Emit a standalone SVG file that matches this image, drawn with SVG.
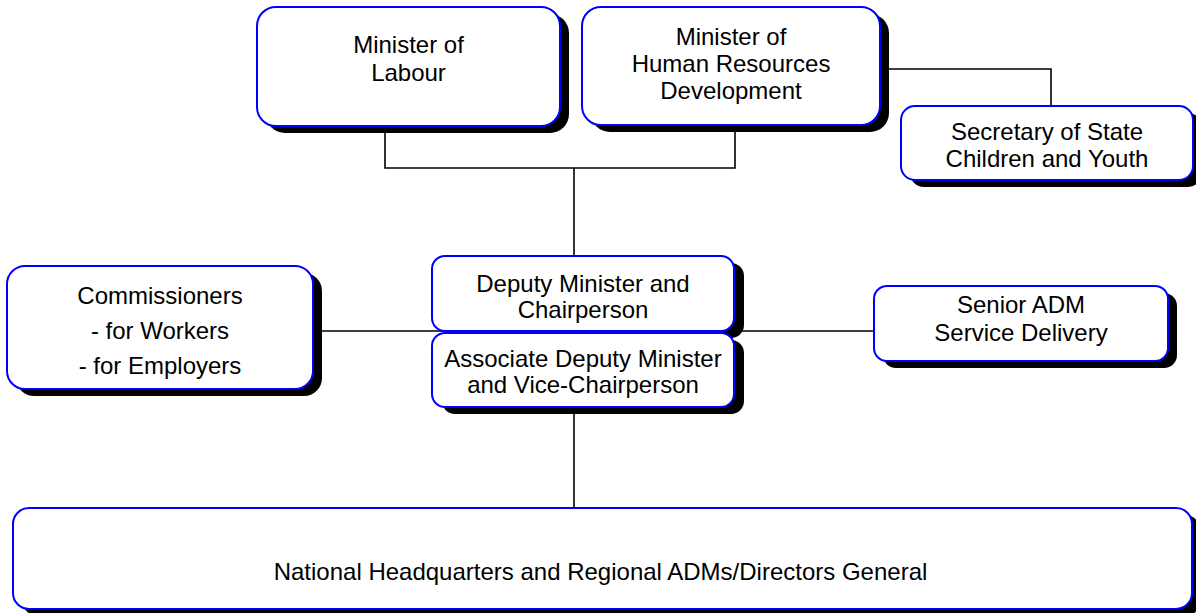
<svg xmlns="http://www.w3.org/2000/svg" width="1196" height="613" viewBox="0 0 1196 613">
<style>
.box{fill:#ffffff;stroke:#0000ff;stroke-width:2}
.sh{fill:#000000}
.t{font-family:"Liberation Sans",Arial,sans-serif;font-size:24px;fill:#000000;text-anchor:middle}
.c{fill:none;stroke:#000000;stroke-width:1.6}
</style>
<rect width="1196" height="613" fill="#ffffff"/>
<g id="connectors">
<path class="c" d="M385,126 V168 H735 V125"/>
<path class="c" d="M574,168 V256"/>
<path class="c" d="M880,69 H1051 V106"/>
<path class="c" d="M313,331 H874"/>
<path class="c" d="M574,407 V508"/>
</g>
<g id="labour">
<rect class="sh" x="266" y="14" width="303" height="119" rx="19"/>
<rect class="box" x="257" y="7" width="303" height="119" rx="19"/>
<text class="t" x="408.5" y="53">Minister of</text>
<text class="t" x="408.5" y="81">Labour</text>
</g>
<g id="hrd">
<rect class="sh" x="591" y="14" width="298" height="118" rx="19"/>
<rect class="box" x="582" y="7" width="298" height="118" rx="19"/>
<text class="t" x="731" y="45">Minister of</text>
<text class="t" x="731" y="72">Human Resources</text>
<text class="t" x="731" y="99">Development</text>
</g>
<g id="secretary">
<rect class="sh" x="910" y="113" width="292" height="74" rx="14"/>
<rect class="box" x="901" y="106" width="292" height="74" rx="14"/>
<text class="t" x="1047" y="140">Secretary of State</text>
<text class="t" x="1047" y="167">Children and Youth</text>
</g>
<g id="commissioners">
<rect class="sh" x="16" y="273" width="306" height="123" rx="18"/>
<rect class="box" x="7" y="266" width="306" height="123" rx="18"/>
<text class="t" x="160" y="304">Commissioners</text>
<text class="t" x="160" y="339">- for Workers</text>
<text class="t" x="160" y="374">- for Employers</text>
</g>
<g id="deputy">
<rect class="sh" x="442" y="263" width="302" height="75" rx="13"/>
<rect class="box" x="432" y="256" width="302" height="75" rx="13"/>
<text class="t" x="583" y="292">Deputy Minister and</text>
<text class="t" x="583" y="318">Chairperson</text>
</g>
<g id="associate">
<rect class="sh" x="442" y="340" width="302" height="74" rx="13"/>
<rect class="box" x="432" y="333" width="302" height="74" rx="13"/>
<text class="t" x="583" y="367">Associate Deputy Minister</text>
<text class="t" x="583" y="393">and Vice-Chairperson</text>
</g>
<g id="senior">
<rect class="sh" x="883" y="293" width="294" height="75" rx="13"/>
<rect class="box" x="874" y="286" width="294" height="75" rx="13"/>
<text class="t" x="1021" y="313">Senior ADM</text>
<text class="t" x="1021" y="341">Service Delivery</text>
</g>
<g id="nhq">
<rect class="sh" x="22" y="515" width="1179" height="101" rx="16"/>
<rect class="box" x="13" y="508" width="1179" height="101" rx="16"/>
<text class="t" x="600.5" y="580">National Headquarters and Regional ADMs/Directors General</text>
</g>
</svg>
